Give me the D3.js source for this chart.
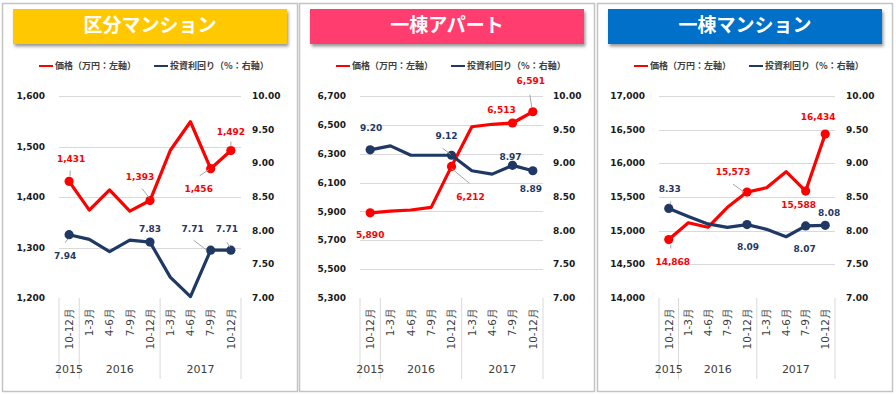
<!DOCTYPE html>
<html lang="ja">
<head>
  <meta charset="UTF-8" />
  <title>価格と投資利回り</title>
  <script src="https://cdn.jsdelivr.net/npm/d3@7"></script>
  <style>
    body { margin: 0; background: #fff; }
    svg text { font-family: "DejaVu Sans", Verdana, sans-serif; }
    svg text.jp { font-family: "Noto Sans CJK JP", sans-serif; }
  </style>
</head>
<body>
<script>
  const width = 896;
  const height = 395;

  // categories (quarters) and the year groups under them
  const periods = ["10-12月", "1-3月", "4-6月", "7-9月", "10-12月", "1-3月", "4-6月", "7-9月", "10-12月"];
  const years = ["2015", "2016", "2017"];
  const yearSpans = [1, 4, 4];

  // price (万円, left axis) and yield (%, right axis) per chart
  const kubunPrice = [1431, 1374, 1414, 1372, 1393, 1492, 1549, 1456, 1492];
  const kubunYield = [7.94, 7.87, 7.69, 7.86, 7.83, 7.31, 7.02, 7.71, 7.71];
  const apartPrice = [5890, 5902, 5910, 5928, 6212, 6487, 6504, 6513, 6591];
  const apartYield = [9.20, 9.26, 9.12, 9.12, 9.12, 8.89, 8.84, 8.97, 8.89];
  const mansionPrice = [14868, 15118, 15050, 15347, 15573, 15638, 15876, 15588, 16434];
  const mansionYield = [8.33, 8.21, 8.10, 8.05, 8.09, 8.02, 7.91, 8.07, 8.08];

  // which points carry a marker + value label
  const labeledIdx = [0, 4, 7, 8];

  const titles = ["区分マンション", "一棟アパート", "一棟マンション"];
  const legendLabels = ["価格（万円：左軸）", "投資利回り（%：右軸）"];

  // axis ranges
  const priceDomains = [[1200, 1600], [5300, 6700], [14000, 17000]];
  const priceSteps = [100, 200, 500];
  const yieldDomain = [7, 10];
  const yieldStep = 0.5;

  const red = "#ff0000";
  const navy = "#1f3864";

  // layout per panel; label offsets are [dx, dy] of label centre from the point,
  // leader is [x1, y1, x2, y2] relative to the point (or null)
  const panels = [
    {
      x0: 2, left: 59, right: 241, labelL: 45, labelR: 252, color: "#ffc800",
      price: kubunPrice, yld: kubunYield,
      priceLab: [[2, -22, [1, -11, 1, -5]], [-10, -24, [-8, -12, -1, -3]], [-12, 20, [-11, 7, -2, 1]], [0, -19, [0, -9, 0, -4]]],
      yieldLab: [[-4, 21, [-1, 4, -4, 8]], [0, -13, null], [-18, -21, [-17, -10, -4, 0]], [-4, -21, [-4, -8, -1, -3]]]
    },
    {
      x0: 299, left: 360, right: 543, labelL: 346, labelR: 553, color: "#ff3d6e",
      price: apartPrice, yld: apartYield,
      priceLab: [[0, 22, null], [19, 30, [0, 2, 18, 17]], [-11, -13, null], [-2, -31, [-3, -17, -1, -4]]],
      yieldLab: [[1, -22, null], [-5, -19, [-9, -7, -1, -1]], [-2, -9, null], [-2, 18, null]]
    },
    {
      x0: 597, left: 659, right: 835, labelL: 645, labelR: 846, color: "#0070c8",
      price: mansionPrice, yld: mansionYield,
      priceLab: [[4, 22, [2, 5, 2, 9]], [-14, -20, [-14, -8, -3, 0]], [-7, 14, null], [-7, -17, null]],
      yieldLab: [[1, -20, [2, -7, 1, -4]], [1, 22, null], [-1, 23, null], [4, -12, null]]
    }
  ];

  const plotTop = 96;
  const plotBottom = 298;

  const svg = d3.select("body").append("svg")
    .attr("width", width)
    .attr("height", height);

  // soft shadow under the title banners
  const defs = svg.append("defs");
  defs.append("filter").attr("id", "shadow")
    .attr("x", "-5%").attr("y", "-20%").attr("width", "115%").attr("height", "160%")
    .append("feDropShadow")
    .attr("dx", 1.5).attr("dy", 2.5).attr("stdDeviation", 1.5)
    .attr("flood-color", "#000").attr("flood-opacity", 0.4);

  panels.forEach((p, k) => {
    const g = svg.append("g");

    // panel frame
    g.append("rect")
      .attr("x", p.x0 + 0.5).attr("y", 3.5)
      .attr("width", 295).attr("height", 388)
      .attr("fill", "#fff").attr("stroke", "#c4c4c4").attr("stroke-width", 1.5);

    // title banner
    g.append("rect")
      .attr("x", p.x0 + 11).attr("y", 9)
      .attr("width", 274).attr("height", 35)
      .attr("fill", p.color)
      .attr("filter", "url(#shadow)");
    g.append("text").attr("class", "jp")
      .attr("x", p.x0 + 148).attr("y", 25)
      .attr("dy", "0.36em")
      .attr("text-anchor", "middle")
      .attr("fill", "#fff")
      .attr("font-size", 19)
      .attr("font-weight", 700)
      .text(titles[k]);

    // legend
    [red, navy].forEach((c, j) => {
      const lx = p.x0 + (j === 0 ? 37 : 152);
      g.append("line")
        .attr("x1", lx).attr("x2", lx + 14)
        .attr("y1", 66).attr("y2", 66)
        .attr("stroke", c).attr("stroke-width", 2);
      g.append("text").attr("class", "jp")
        .attr("x", lx + 16).attr("y", 66)
        .attr("dy", "0.36em")
        .attr("font-size", 9)
        .attr("font-weight", 700)
        .attr("fill", "#404040")
        .text(legendLabels[j]);
    });

    // scales
    const x = d3.scaleBand().domain(d3.range(periods.length)).range([p.left, p.right]);
    const cx = i => x(i) + x.bandwidth() / 2;
    const yP = d3.scaleLinear().domain(priceDomains[k]).range([plotBottom, plotTop]);
    const yY = d3.scaleLinear().domain(yieldDomain).range([plotBottom, plotTop]);

    const pTicks = d3.range(priceDomains[k][0], priceDomains[k][1] + priceSteps[k] / 2, priceSteps[k]);
    const yTicks = d3.range(yieldDomain[0], yieldDomain[1] + yieldStep / 2, yieldStep);

    // gridlines (left axis), none at the bottom
    g.selectAll(".grid")
      .data(pTicks.slice(1))
      .join("line")
      .attr("x1", p.left).attr("x2", p.right)
      .attr("y1", d => Math.round(yP(d)) + 0.5)
      .attr("y2", d => Math.round(yP(d)) + 0.5)
      .attr("stroke", "#d9d9d9").attr("stroke-width", 1);

    // left axis labels
    g.selectAll(".lt")
      .data(pTicks)
      .join("text")
      .attr("x", p.labelL).attr("y", d => yP(d))
      .attr("dy", "0.35em")
      .attr("text-anchor", "end")
      .attr("font-size", 9).attr("font-weight", 700)
      .attr("fill", "#1a1a1a")
      .text(d3.format(","));

    // right axis labels
    g.selectAll(".rt")
      .data(yTicks)
      .join("text")
      .attr("x", p.labelR).attr("y", d => yY(d))
      .attr("dy", "0.35em")
      .attr("font-size", 9).attr("font-weight", 700)
      .attr("fill", "#1a1a1a")
      .text(d3.format(".2f"));

    // category axis: separators between year groups
    let acc = 0;
    const bounds = [0];
    yearSpans.forEach(s => { acc += s; bounds.push(acc); });
    g.selectAll(".sep")
      .data(bounds)
      .join("line")
      .attr("x1", d => d < periods.length ? x(d) : p.right)
      .attr("x2", d => d < periods.length ? x(d) : p.right)
      .attr("y1", plotBottom).attr("y2", 379)
      .attr("stroke", "#d9d9d9").attr("stroke-width", 1);

    g.selectAll(".per")
      .data(periods)
      .join("text")
      .attr("transform", (d, i) => `translate(${cx(i)},308) rotate(-90)`)
      .attr("dy", "0.36em")
      .attr("text-anchor", "end")
      .attr("font-size", 10.5)
      .attr("fill", "#404040")
      .text(d => d);

    g.selectAll(".yr")
      .data(years)
      .join("text")
      .attr("x", (d, j) => {
        const a = x(bounds[j]);
        const b = bounds[j + 1] < periods.length ? x(bounds[j + 1]) : p.right;
        return (a + b) / 2;
      })
      .attr("y", 373)
      .attr("text-anchor", "middle")
      .attr("font-size", 11)
      .attr("fill", "#404040")
      .text(d => d);

    // series: price (red, left) then yield (navy, right)
    const series = [
      { values: p.price, y: yP, color: red, lab: p.priceLab, fmt: d3.format(",") },
      { values: p.yld, y: yY, color: navy, lab: p.yieldLab, fmt: d3.format(".2f") }
    ];

    series.forEach(s => {
      const line = d3.line().x((d, i) => cx(i)).y(d => s.y(d));
      g.append("path")
        .attr("d", line(s.values))
        .attr("fill", "none")
        .attr("stroke", s.color)
        .attr("stroke-width", 3.2)
        .attr("stroke-linejoin", "round");

      g.selectAll(null)
        .data(labeledIdx)
        .join("circle")
        .attr("cx", i => cx(i))
        .attr("cy", i => s.y(s.values[i]))
        .attr("r", 4.6)
        .attr("fill", s.color);
    });

    // value labels and leader lines on top
    series.forEach(s => {
      labeledIdx.forEach((i, j) => {
        const px = cx(i), py = s.y(s.values[i]);
        const [dx, dy, leader] = s.lab[j];
        if (leader) {
          g.append("line")
            .attr("x1", px + leader[0]).attr("y1", py + leader[1])
            .attr("x2", px + leader[2]).attr("y2", py + leader[3])
            .attr("stroke", "#a6a6a6").attr("stroke-width", 1);
        }
        g.append("text")
          .attr("x", px + dx).attr("y", py + dy)
          .attr("dy", "0.35em")
          .attr("text-anchor", "middle")
          .attr("font-size", 9).attr("font-weight", 700)
          .attr("fill", s.color)
          .text(s.fmt(s.values[i]));
      });
    });
  });
</script>
</body>
</html>
